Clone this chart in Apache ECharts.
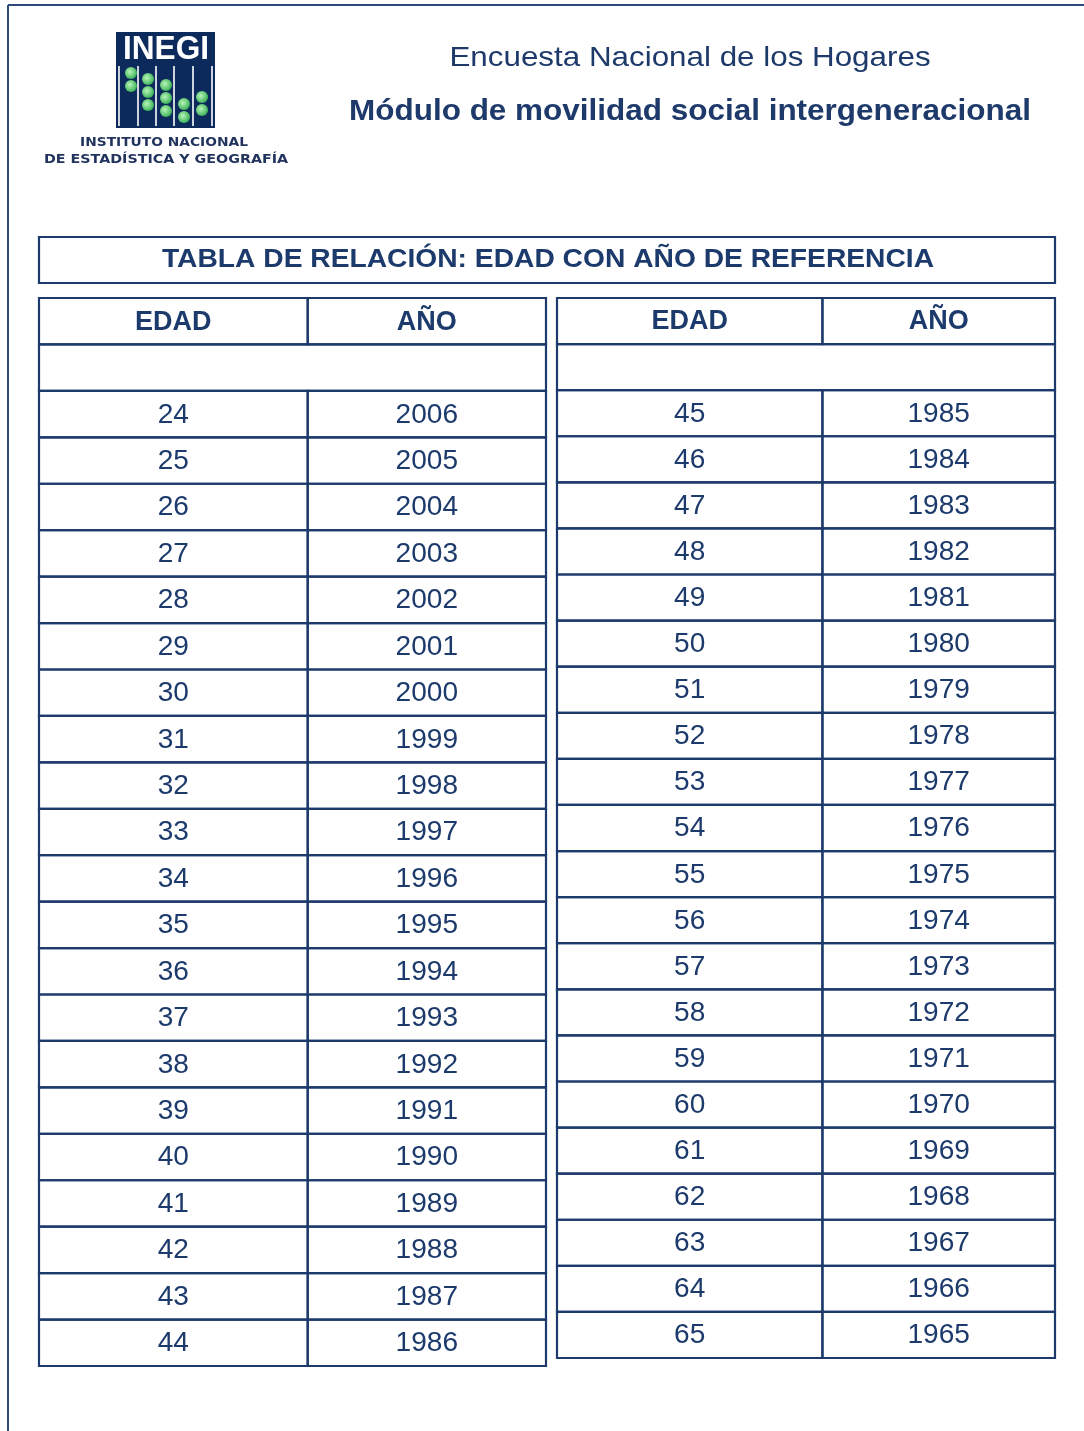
<!DOCTYPE html>
<html>
<head>
<meta charset="utf-8">
<script src="https://cdn.jsdelivr.net/npm/echarts@6/dist/echarts.min.js"></script>
<style>
  html, body { margin: 0; padding: 0; background: #fff; }
  #main { width: 1084px; height: 1431px; }
</style>
</head>
<body>
<div id="main"></div>
<script>
// datos de la tabla
var headers = ['EDAD', 'AÑO'];
var leftAges = [24, 25, 26, 27, 28, 29, 30, 31, 32, 33, 34, 35, 36, 37, 38, 39, 40, 41, 42, 43, 44];
var leftYears = [2006, 2005, 2004, 2003, 2002, 2001, 2000, 1999, 1998, 1997, 1996, 1995, 1994, 1993, 1992, 1991, 1990, 1989, 1988, 1987, 1986];
var rightAges = [45, 46, 47, 48, 49, 50, 51, 52, 53, 54, 55, 56, 57, 58, 59, 60, 61, 62, 63, 64, 65];
var rightYears = [1985, 1984, 1983, 1982, 1981, 1980, 1979, 1978, 1977, 1976, 1975, 1974, 1973, 1972, 1971, 1970, 1969, 1968, 1967, 1966, 1965];

var NAVY = '#1c3a6b';
var FONT = '"Liberation Sans", Arial, sans-serif';

// bordes de columna (fraccion del ancho de cada tabla)
var leftEdges = [0, 0.53, 1];
var rightEdges = [0, 0.533, 1];

function buildCells(ages, years) {
  var cells = [];
  cells.push({ value: [0, 0, 1], text: headers[0], bold: true });
  cells.push({ value: [1, 0, 1], text: headers[1], bold: true });
  cells.push({ value: [0, 1, 2], text: '', bold: false }); // fila vacia combinada
  for (var i = 0; i < ages.length; i++) {
    cells.push({ value: [0, i + 2, 1], text: String(ages[i]), bold: false });
    cells.push({ value: [1, i + 2, 1], text: String(years[i]), bold: false });
  }
  return cells;
}

var leftCells = buildCells(leftAges, leftYears);
var rightCells = buildCells(rightAges, rightYears);

function cellRender(edges, cells) {
  return function (params, api) {
    var c = api.value(0), r = api.value(1), span = api.value(2);
    var p0 = api.coord([edges[c], r]);
    var p1 = api.coord([edges[c + span], r + 1]);
    var cell = cells[params.dataIndex];
    return {
      type: 'group',
      children: [{
        type: 'rect',
        shape: { x: p0[0], y: p0[1], width: p1[0] - p0[0], height: p1[1] - p0[1] },
        style: { fill: 'transparent', stroke: NAVY, lineWidth: 2.2 }
      }, {
        type: 'text',
        x: (p0[0] + p1[0]) / 2,
        y: (p0[1] + p1[1]) / 2 + 1,
        scaleX: cell.bold ? 1 : 1.04,
        style: {
          text: cell.text,
          x: 0, y: 0,
          align: 'center',
          verticalAlign: 'middle',
          fontFamily: FONT,
          fontSize: 27,
          fontWeight: cell.bold ? 'bold' : 'normal',
          fill: NAVY
        }
      }]
    };
  };
}

// texto centrado con estiramiento horizontal
function label(text, cx, cy, size, bold, sx, color, family) {
  return {
    type: 'text', x: cx, y: cy, scaleX: sx,
    style: { text: text, x: 0, y: 0, align: 'center', verticalAlign: 'middle',
      fontFamily: family || FONT, fontSize: size, fontWeight: bold ? 'bold' : 'normal', fill: color }
  };
}

// logo INEGI (decorativo)
var logoBeads = [
  [131, 73], [131, 86],
  [148, 79], [148, 92], [148, 105],
  [166, 85], [166, 98], [166, 111],
  [184, 104], [184, 117],
  [202, 97], [202, 110]
];
var logo = [
  { type: 'rect', shape: { x: 116, y: 32, width: 99, height: 96 }, style: { fill: '#0d2a5c' } },
  label('INEGI', 166, 50, 34, true, 0.93, '#fff')
];
[119, 138, 156, 174, 193, 212].forEach(function (x) {
  logo.push({ type: 'line', shape: { x1: x, y1: 66, x2: x, y2: 126 }, style: { stroke: '#fff', lineWidth: 1.6 } });
});
logoBeads.forEach(function (b) {
  logo.push({ type: 'circle', shape: { cx: b[0], cy: b[1], r: 6 },
    style: { fill: new echarts.graphic.RadialGradient(0.4, 0.4, 0.7, [{ offset: 0, color: '#b8f5b8' }, { offset: 1, color: '#2aa84a' }]) } });
});
logo.push(label('INSTITUTO NACIONAL', 164, 143, 12, true, 1.15, '#22345e', '"DejaVu Sans", sans-serif'));
logo.push(label('DE ESTADÍSTICA Y GEOGRAFÍA', 166, 160, 12, true, 1.19, '#22345e', '"DejaVu Sans", sans-serif'));

var chart = echarts.init(document.getElementById('main'));
var option = {
  backgroundColor: '#fff',
  animation: false,
  graphic: [
    // marco de pagina
    { type: 'line', shape: { x1: 8, y1: 5, x2: 1084, y2: 5 }, style: { stroke: '#2d4a7a', lineWidth: 2 } },
    { type: 'line', shape: { x1: 8, y1: 5, x2: 8, y2: 1431 }, style: { stroke: '#2d4a7a', lineWidth: 2 } },
    { type: 'group', children: logo },
    label('Encuesta Nacional de los Hogares', 690, 58, 28, false, 1.12, '#1e3a6a'),
    label('Módulo de movilidad social intergeneracional', 690, 112, 29, true, 1.085, '#1e3a6a'),
    { type: 'rect', shape: { x: 39, y: 237, width: 1016, height: 46 }, style: { fill: 'transparent', stroke: NAVY, lineWidth: 2.2 } },
    label('TABLA DE RELACIÓN: EDAD CON AÑO DE REFERENCIA', 548, 260, 26, true, 1.085, NAVY)
  ],
  grid: [
    { left: 39, top: 298, width: 507, height: 1068 },
    { left: 557, top: 298, width: 498, height: 1060 }
  ],
  xAxis: [
    { gridIndex: 0, type: 'value', min: 0, max: 1, show: false },
    { gridIndex: 1, type: 'value', min: 0, max: 1, show: false }
  ],
  yAxis: [
    { gridIndex: 0, type: 'value', min: 0, max: leftAges.length + 2, inverse: true, show: false },
    { gridIndex: 1, type: 'value', min: 0, max: rightAges.length + 2, inverse: true, show: false }
  ],
  series: [
    { type: 'custom', xAxisIndex: 0, yAxisIndex: 0, data: leftCells, renderItem: cellRender(leftEdges, leftCells), silent: true },
    { type: 'custom', xAxisIndex: 1, yAxisIndex: 1, data: rightCells, renderItem: cellRender(rightEdges, rightCells), silent: true }
  ]
};
chart.setOption(option);
</script>
</body>
</html>
